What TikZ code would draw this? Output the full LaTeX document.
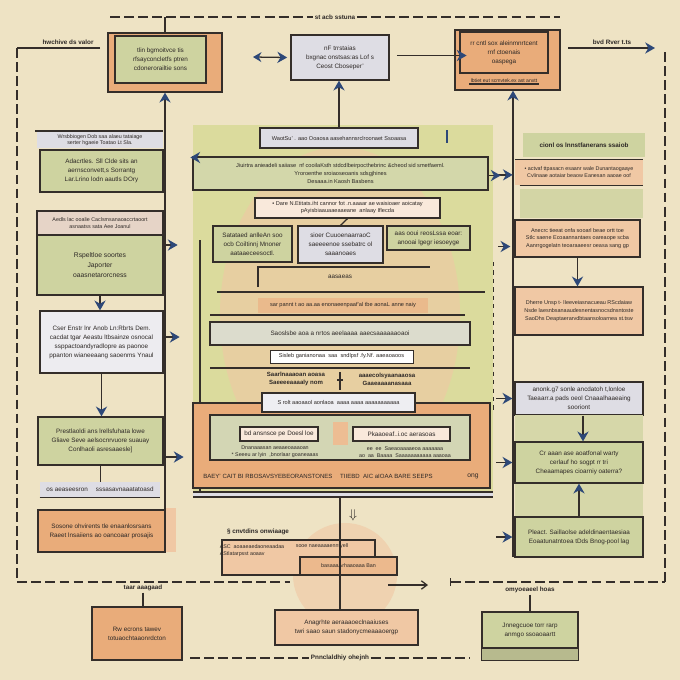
\documentclass[tikz,border=0pt]{standalone}
\usepackage{fontspec}
\setmainfont{Liberation Sans}
\usetikzlibrary{arrows.meta,positioning}

\definecolor{bgc}{RGB}{238,227,196}
\definecolor{linec}{RGB}{52,46,42}
\definecolor{inkc}{RGB}{45,40,38}
\definecolor{greenc}{RGB}{206,211,160}
\definecolor{orangec}{RGB}{233,172,122}
\definecolor{peachc}{RGB}{240,200,164}
\definecolor{lavc}{RGB}{222,221,228}
\definecolor{arrowc}{RGB}{45,72,120}
\definecolor{panelc}{RGB}{216,218,150}

\tikzset{
  every node/.style={font=\fontsize{4.5}{6.4}\selectfont, text=inkc, align=center, inner sep=1pt},
  wd/.style={minimum width=#1*0.025cm},
  ht/.style={minimum height=#1*0.025cm},
  box/.style={draw=linec, line width=0.9pt},
  gbox/.style={box, fill=greenc},
  obox/.style={box, fill=orangec},
  pbox/.style={box, fill=peachc},
  lbox/.style={box, fill=lavc},
  lbl/.style={font=\fontsize{4.5}{6}\selectfont\bfseries},
  ln/.style={draw=linec, line width=0.9pt},
  arr/.style={draw=linec, line width=0.9pt, -{Stealth[length=7pt,width=8pt,color=arrowc]}},
  dline/.style={draw=linec, line width=0.9pt, dash pattern=on 7pt off 3pt},
}

\begin{document}
\begin{tikzpicture}[x=0.025cm,y=-0.025cm]
    \fill[bgc] (0,0) rectangle (680,680);

    % top row
    \node[lbl] (ttl) at (335,17) {st acb sstuna};
    \coordinate (tdl) at (110,17);
    \coordinate (tdr) at (560,17);
    \draw[dline] (tdl) -- (ttl.west);
    \draw[dline] (ttl.east) -- (tdr);
    \node[obox, wd=114, ht=59] (tlo) at (165,62.5) {};
    \node[gbox, wd=91, ht=47, line width=1.3pt] (tli) at (160.5,59.5) {tlin bgmoitvce tis\\rfsayconcletfs ptren\\cdonerorailtie sons};
    \coordinate (tlt) at (165,17);
    \draw[ln] (tlt) -- (tlt |- tlo.north);
    \node[lbox, wd=98, ht=45] (tm) at (340,57.5) {nF trrstaias\\bxgnac onstsas:as Lof s\\Ceost Cboseper'};
    \node[obox, wd=105, ht=60] (tro) at (507.5,60) {};
    \node[obox, wd=88, ht=41] (tri) at (504,52.5) {rr cntl sox aleinmnrtcent\\rnf ctoenais\\oaspega};
    \node[font=\fontsize{3.6}{4.5}\selectfont] (trs) at (504,80.5) {lbtiet eut scmvtek.ex ast anxtt};
    \draw[ln] (trs.south west) -- (trs.south east);
    \coordinate (dal) at (253,57);
    \draw[ln, {Stealth[length=6pt,width=7pt,color=arrowc]}-{Stealth[length=7pt,width=8pt,color=arrowc]}] (dal) -- ([xshift=-0.08cm]tm.west);
    \draw[arr] ([xshift=0.18cm,yshift=0.05cm]tm.east) -- ([xshift=0.18cm,yshift=0.05cm]tm.east -| tri.west);
    \node[lbl] (rvl) at (612,42) {bvd Rver t.ts};
    \coordinate (rv1) at (568,48);
    \coordinate (rv2) at (655,48);
    \draw[arr] (rv1) -- (rv2);
    \draw[dline] (665,52) -- (665,582);
    \node[lbl] (hwl) at (68,42) {hwchive ds valor};
    \coordinate (hw1) at (100,48);
    \coordinate (hw2) at (17,48);
    \draw[ln] (hw1) -- (hw2);
    \draw[dline] (hw2) -- (17,582) -- (290,582);

    % left column
    \draw[ln] (35,131) -- (163,131);
    \node[fill=lavc, wd=126, ht=16, font=\fontsize{3.8}{4.6}\selectfont] (L1h) at (100,140) {Wrsbbiogen Dob saa alaeu tataiage\\serter hgaeie Toatao Lt Sla.};
    \node[gbox, wd=123, ht=42] (L1) at (101.5,171) {Adacrtles. Sll Clde sits an\\aernsconvett,s Sorrantg\\Lar.Lrino lodn aautls DOry};
    \node[box, fill=peachc!45!lavc, wd=126, ht=24, font=\fontsize{3.8}{4.8}\selectfont] (L2h) at (100,223) {Aedls lac ooalie Caclsmsanaoaccrtaoort\\asnaatss sata Aee Joanul};
    \node[gbox, wd=126, ht=60, font=\fontsize{4.8}{7}\selectfont] (L2) at (100,265) {Rspeltloe soortes\\Japorter\\oaasnetarorcness};
    \node[box, fill=lavc!55!white, wd=123, ht=62] (L3) at (101.5,342) {Cser Enstr lnr Anob Ln:Rbrts Dem.\\cacdat tgar Aeastu ltbsainze osnocal\\ssppactoandyradlopre as paonoe\\ppanton wianeeaang saoenms Ynaul};
    \node[gbox, wd=125, ht=48] (L4) at (100.5,441) {Prestlaoldi ans lrellsfuhata lowe\\Gliave Seve aelsocnrvuore suauay\\Conlhaoli asresaaesle]};
    \node[fill=lavc, wd=120, ht=15] (L5) at (100,489.5) {os aeaseesron \quad sssasavnaaatatoasd};
    \draw[ln] (L5.south west) -- (L5.south east);
    \fill[peachc] (165,508) rectangle (176,552);
    \node[obox, wd=127, ht=42] (L6) at (101.5,531) {Sosone ohvirents tle enaanlosrsans\\Raeet lnsaiiens ao oancoaar prosajis};
    \draw[arr] (L2.south) -- (L2.south |- L3.north);
    \draw[arr] (L3.south) -- (L3.south |- L4.north);
    \draw[ln] (L4.south) -- (L4.south |- L5.north);
    \coordinate (lb) at (165,515);
    \draw[arr] (lb) -- (lb |- tlo.south);
    \draw[arr] ([yshift=0.5cm]L2.east) -- ++(14,0);
    \draw[arr] ([yshift=0.125cm]L3.east) -- ++(16,0);
    \draw[arr] ([yshift=-0.4cm]L4.east) -- ++(20,0);

    % right column
    \node[fill=greenc, wd=122, ht=24, lbl] (R1h) at (584,145) {cionl os lnnstfanerans ssaiob};
    \node[fill=peachc, wd=128, ht=25, font=\fontsize{3.8}{5}\selectfont] (R1) at (579,172.5) {• actvaf ttpasacn esaanr wale Dunantaogaaye\\Cvlinaae aotaiar beaow Eanesan aaoae oof};
    \draw[ln] (R1.north west) -- (R1.north east);
    \draw[ln] ([xshift=0.12cm]R1.south west) -- (R1.south east);
    \fill[greenc!85!bgc] (520,189) rectangle (643,218);
    \node[pbox, wd=125, ht=37, font=\fontsize{3.9}{5.6}\selectfont] (R2) at (577.5,238.5) {Anecrc tieeat onfa sooarl beae ortt toe\\Stlc saene Ecoaannantaes oareaope scba\\Aanrrgogelatn teoaraaeesr oeasa sang gp};
    \node[pbox, wd=128, ht=48, font=\fontsize{3.9}{5.8}\selectfont] (R3) at (579,311) {Dherre Unsp t- lIeeveiasnacueau RScdaiaw\\Nsde laesnbsanaaudesnentasnocsdnsntoste\\SaoDhs Deaptaerarvdbtaansoloarnea st.tsw};
    \node[lbox, wd=128, ht=33] (R4) at (579,398.5) {anonk.g7 sonle ancdatoh t,lonloe\\Taeaarr.a pads oeol Cnaaalhaaeaing\\sooriont};
    \fill[greenc!75!bgc] (515,415) rectangle (643,517);
    \node[gbox, wd=128, ht=41] (R5) at (579,462.5) {Cr aaan ase aoatfonal warty\\cerlauf ho sogpt rr tri\\Cheaamapes cioarniy oaterra?};
    \node[gbox, wd=128, ht=40] (R6) at (579,537) {Pleact. Saillaolse adeldinaentaesiaa\\Eoaatunatntoea tDds Bnog-pool lag};
    \coordinate (rb) at (513,557);
    \draw[arr] (rb) -- (rb |- tro.south);
    \draw[arr] ([xshift=-0.45cm,yshift=-0.06cm]R1.west) -- ([xshift=-0.05cm,yshift=-0.06cm]R1.west);
    \draw[arr] ([xshift=-0.4cm,yshift=-0.2cm]R2.west) -- ([xshift=-0.1cm,yshift=-0.2cm]R2.west);
    \draw[arr] ([xshift=-0.45cm]R4.west) -- ([xshift=-0.05cm]R4.west);
    \draw[arr] ([xshift=-0.45cm]R5.west) -- ([xshift=-0.05cm]R5.west);
    \draw[arr] ([xshift=-0.45cm]R6.west) -- ([xshift=-0.05cm]R6.west);
    \draw[arr] (R2.south) -- (R2.south |- R3.north);
    \draw[arr] ([xshift=0.1cm]R4.south) -- ([xshift=0.1cm]R4.south |- R5.north);
    \draw[arr] (R6.north) -- (R5.south);
    \draw[linec, dashed, thin] (493,262) -- (493,410);

    % centre panel
    \fill[panelc!85!bgc] (193,125) rectangle (493,492);
    \fill[peachc, opacity=0.6] (340,315) ellipse (3cm and 4.2cm);
    \node[lbox, wd=158, ht=20, font=\fontsize{4}{5}\selectfont] (C1) at (339,138) {WaotSu' . aao Ooaosa aasehannsrclroonaet Ssoaasa};
    \draw[arr] (C1.north) -- (C1.north |- tm.south);
    \draw[arrowc, line width=1.6pt] (447,130) -- (447,143);
    \node[box, fill=greenc!90!white, wd=295, ht=33, font=\fontsize{4}{6}\selectfont] (C2) at (340.5,173.5) {Jiuirtra anieadeli saiiase \ nf cooilaKsth stdcdlbeirpocthebrinc \&cheod sid smetfaeml.\\Yroroenthe sroiaoseoanis sdsgjhines\\Desaaa.in Kaosh Basbens};
    \draw[arr] ([xshift=0.3cm,yshift=0.4cm]C2.west) -- ([xshift=-0.05cm,yshift=0.4cm]C2.west);
    \draw[arr] ([yshift=-0.05cm]C2.east) -- ++(12,0);
    \node[box, fill=peachc!40!white, wd=185, ht=20, font=\fontsize{4}{5}\selectfont] (C3) at (347.5,208) {• Dare N.Etitats.iht cannor fot .n.aaaar ae waisioaer aoicatay\\pAyisbiaauaaeaaeane \ anlaay Iflecda};
    \node[gbox, wd=79, ht=36] (C4a) at (252.5,244) {Satataed anlleAn soo\\ocb Coiltinnj Mnoner\\aataaeceesoctl.};
    \node[lbox, wd=85, ht=37] (C4b) at (340.5,244.5) {sioer CuuoenaarraoC\\saeeeenoe ssebatrc ol\\saaanoaes};
    \node[gbox, wd=83, ht=24] (C4c) at (428.5,238) {aas ooui reosLssa eoar:\\anooai lgegr iesoeyge};
    \draw[ln] (C3.south) -- (C4b.north);
    \draw[ln] (200,240) -- (200,497);
    \draw[ln] (258,287) -- (258,267) -- (430,267);
    \node (C5) at (340,277) {aasaeas};
    \draw[ln] (217,292) -- (485,292);
    \node[fill=orangec!75!bgc, wd=170, ht=15, font=\fontsize{4}{5}\selectfont] (C6) at (343,305.5) {sar pannt t ao aa.aa enonaeenpaaf'al tbe aonaL anne naiy};
    \draw[ln] (210,315) -- (465,315);
    \node[box, fill=lavc!70!panelc, wd=260, ht=23] (C7) at (340,333.5) {Saoslsbe aoa a nrtos aeelaaaa aaecsaaaaaaoaoi};
    \node[draw=linec, thin, fill=white, wd=143, ht=13, font=\fontsize{4}{5}\selectfont] (C8) at (341.5,356.5) {Sisleb ganianonaa \ saa \ sndlpsf .fy.Nf. aaeaoaoos};
    \draw[ln] (210,368) -- (470,368);
    \node[font=\fontsize{4.3}{5.6}\selectfont\bfseries] (C8l) at (296,379) {Saarlnaaaoan aoasa\\Saeeeeaaaaly nom};
    \node[font=\fontsize{4.3}{5.6}\selectfont\bfseries] (C8r) at (387,379) {aaaecolsyaanaaosa\\Gaaeaaaanasaaa};
    \draw[ln] (340,372) -- (340,390);
    \draw[ln] (337,380) -- (343,380);
    \node[obox, wd=297, ht=85] (O) at (341.5,445.5) {};
    \node[box, fill=lavc!50!white, wd=153, ht=19, font=\fontsize{4}{5}\selectfont] (C9) at (338.5,402.5) {S rolt aaoaaol aonlaoa \ aaaa aaaa aaaaaaaaaaa};
    \node[box, fill=greenc!70!lavc, wd=260, ht=45] (In) at (340,437.5) {};
    \fill[peachc!60!orangec] (333,422) rectangle (348,445);
    \node[box, fill=peachc!40!white, wd=78, ht=14] (C10a) at (279,434) {bd ansnsce pe Doesl loe};
    \node[box, fill=peachc!40!white, wd=97, ht=14] (C10b) at (401.5,434) {Pkaaoeaf..i.oc aerasoas};
    \node[font=\fontsize{3.8}{4.8}\selectfont] (C11l) at (275,452) {Dnanaaasan aeaaeoaaaoan\\* Seeeu ar lyin \ ,bnorlaar goaneaaas};
    \node[font=\fontsize{3.8}{4.8}\selectfont] (C11r) at (405,452) {ee \ ee \ Saeaoaaaaeoa aaaaaaa\\ao \ aa \ Baaaa \ Saaaaaaaaaaa aaaoaa};
    \node[font=\fontsize{4.3}{5}\selectfont] (C12) at (318,476) {BAEY' CAIT BI RBOSAVSYEBEORANSTONES \quad TIIEBD \ AIC aIOAA BARE SEEPS};
    \node[font=\fontsize{4.8}{5}\selectfont] (C13) at (473,476) {ong};
    \fill[lavc] (193,492) rectangle (493,497);
    \draw[ln] (193,492) -- (493,492);
    \draw[ln] (193,497) -- (493,497);

    % bottom
    \fill[peachc, opacity=0.6] (345,575) circle (1.3cm);
    \node[lbl] (B1l) at (258,532) {§ cnvtdins onwiaage};
    \node[box, fill=peachc, wd=153, ht=35] (B1) at (298.5,557.5) {};
    \node[font=\fontsize{3.8}{5}\selectfont, align=left] (B1t) at (252,551) {ASC \ aoaaeaedaoneaadaa\\AStlatarpsst aoaav};
    \node[font=\fontsize{3.8}{5}\selectfont] (B1u) at (322,546) {sooe naeaaaaenntyell};
    \node[box, fill=orangec!55!peachc, wd=97, ht=18, font=\fontsize{3.8}{5}\selectfont] (B1b) at (348.5,566) {basaaaArhaaoaaa Ban};
    \node[pbox, wd=143, ht=35] (B2) at (346.5,627.5) {Anagrhte aeraaaoeclnaaiuses\\twri saao saun stadonycmeaaaoergp};
    \coordinate (ob) at (340,497);
    \draw[linec, line width=1.3pt] (ob) -- (ob |- B2.north);
    \node[font=\fontsize{9}{9}\selectfont] (dn) at (353,515) {$\Downarrow$};
    \coordinate (bm1) at (388,585);
    \coordinate (bm2) at (428,585);
    \draw[ln, -{Straight Barb[length=4pt,width=6pt]}] (bm1) -- (bm2);
    \coordinate (bm3) at (450,582);
    \draw[dline, {Bar[width=6pt]}-] (bm3) -- (665,582);
    \node[lbl] (BLl) at (143,588) {taar aaagaad};
    \node[obox, wd=90, ht=53] (BL) at (137,633.5) {Rw ecrons tawev\\totuaochtaaonrdcton};
    \draw[ln] (BLl.south) -- (BLl.south |- BL.north);
    \node[lbl] (BRl) at (530,590) {omyoeaeel hoas};
    \node[gbox, wd=96, ht=36] (BR) at (530,630) {Jnnegcuoe torr rarp\\anmgo ssoaoaartt};
    \draw[box, fill=greenc!85!linec] (BR.south west) rectangle ([yshift=-0.3cm]BR.south east);
    \draw[ln] (BRl.south) -- (BRl.south |- BR.north);
    \node[lbl] (BB) at (340,658) {Pnnclaldhiy ohejnh};
    \coordinate (bb1) at (190,658);
    \coordinate (bb2) at (470,658);
    \draw[dline] (bb1) -- (BB.west);
    \draw[dline] (BB.east) -- (bb2);
\end{tikzpicture}
\end{document}
